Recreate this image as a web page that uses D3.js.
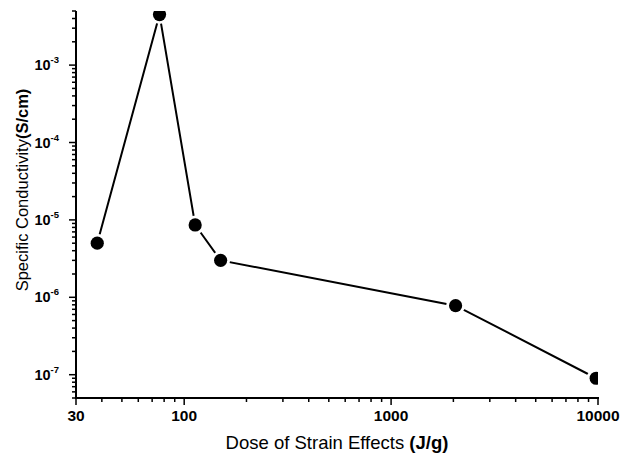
<!DOCTYPE html>
<html>
<head>
<meta charset="utf-8">
<script src="https://cdn.jsdelivr.net/npm/d3@7"></script>
<style>
  body { margin: 0; background: #fff; }
  svg text { font-family: "Liberation Sans", Arial, sans-serif; fill: #000; }
</style>
</head>
<body>
<svg id="chart" width="624" height="454"></svg>
<script>
// dose (J/g) and conductivity (S/cm)
var dose = [38, 76, 113, 150, 2050, 9800];
var conductivity = [5.0e-6, 4.5e-3, 8.6e-6, 3.0e-6, 7.8e-7, 9.0e-8];
var xTicks = [30, 100, 1000, 10000];
var yTicks = [1e-7, 1e-6, 1e-5, 1e-4, 1e-3];

var margin = { left: 76, right: 26, top: 11, bottom: 56 };
var width = 624, height = 454;

var svg = d3.select("#chart");

var x = d3.scaleLog()
    .domain([30, 10000])
    .range([margin.left, width - margin.right]);

var y = d3.scaleLog()
    .domain([5e-8, 5e-3])
    .range([height - margin.bottom, margin.top]);

svg.append("defs").append("clipPath")
    .attr("id", "plotClip")
    .append("rect")
    .attr("x", margin.left)
    .attr("y", margin.top)
    .attr("width", width - margin.left - margin.right)
    .attr("height", height - margin.top - margin.bottom);

// minor ticks
var xMinor = [];
[10, 100, 1000].forEach(function (d) {
    for (var i = 2; i <= 9; i++) {
        var v = d * i;
        if (v > 30 && v < 10000 && xTicks.indexOf(v) < 0) xMinor.push(v);
    }
});
var yMinor = [];
[1e-8, 1e-7, 1e-6, 1e-5, 1e-4, 1e-3].forEach(function (d) {
    for (var i = 2; i <= 9; i++) {
        var v = d * i;
        if (v >= 5e-8 * 0.999 && v <= 5e-3 * 1.001) yMinor.push(v);
    }
});

var x0 = margin.left, yb = height - margin.bottom;

// x axis
var gx = svg.append("g");
gx.selectAll(".xminor").data(xMinor).enter().append("line")
    .attr("x1", d => x(d)).attr("x2", d => x(d))
    .attr("y1", yb).attr("y2", yb + 4)
    .attr("stroke", "#000").attr("stroke-width", 1.5);
gx.selectAll(".xmajor").data(xTicks).enter().append("line")
    .attr("x1", d => x(d)).attr("x2", d => x(d))
    .attr("y1", yb).attr("y2", yb + 7)
    .attr("stroke", "#000").attr("stroke-width", 1.5);
gx.selectAll(".xlab").data(xTicks).enter().append("text")
    .attr("x", d => x(d)).attr("y", yb + 23)
    .attr("text-anchor", "middle")
    .attr("font-size", "15.5px").attr("font-weight", "bold")
    .text(d => d);
gx.append("line")
    .attr("x1", x0 - 1).attr("x2", width - margin.right + 1)
    .attr("y1", yb).attr("y2", yb)
    .attr("stroke", "#000").attr("stroke-width", 2);

// y axis
var gy = svg.append("g");
gy.selectAll(".yminor").data(yMinor).enter().append("line")
    .attr("x1", x0 - 4).attr("x2", x0)
    .attr("y1", d => y(d)).attr("y2", d => y(d))
    .attr("stroke", "#000").attr("stroke-width", 1.5);
gy.selectAll(".ymajor").data(yTicks).enter().append("line")
    .attr("x1", x0 - 7).attr("x2", x0)
    .attr("y1", d => y(d)).attr("y2", d => y(d))
    .attr("stroke", "#000").attr("stroke-width", 1.5);
var ylab = gy.selectAll(".ylab").data(yTicks).enter().append("text")
    .attr("x", x0 - 17).attr("y", d => y(d) + 5)
    .attr("text-anchor", "end")
    .attr("font-size", "14.5px").attr("font-weight", "bold");
ylab.append("tspan").text("10");
ylab.append("tspan")
    .attr("dy", -7).attr("font-size", "9.5px")
    .text(d => "-" + Math.round(-Math.log10(d)));
gy.append("line")
    .attr("x1", x0).attr("x2", x0)
    .attr("y1", margin.top).attr("y2", yb + 1)
    .attr("stroke", "#000").attr("stroke-width", 2);

// data
var pts = dose.map((d, i) => [d, conductivity[i]]);
var gp = svg.append("g").attr("clip-path", "url(#plotClip)");
gp.append("path")
    .datum(pts)
    .attr("d", d3.line().x(d => x(d[0])).y(d => y(d[1])))
    .attr("fill", "none")
    .attr("stroke", "#000")
    .attr("stroke-width", 2);
gp.selectAll(".halo").data(pts).enter().append("circle")
    .attr("cx", d => x(d[0])).attr("cy", d => y(d[1]))
    .attr("r", 9.5)
    .attr("fill", "#fff");
gp.selectAll(".dot").data(pts).enter().append("circle")
    .attr("cx", d => x(d[0])).attr("cy", d => y(d[1]))
    .attr("r", 6.6)
    .attr("fill", "#000");

// axis titles
var xt = svg.append("text")
    .attr("x", (x0 + width - margin.right) / 2)
    .attr("y", 449)
    .attr("text-anchor", "middle")
    .attr("font-size", "18.5px");
xt.append("tspan").text("Dose of Strain Effects ");
xt.append("tspan").attr("font-weight", "bold").text("(J/g)");

var yt = svg.append("text")
    .attr("transform", "translate(28,190) rotate(-90)")
    .attr("text-anchor", "middle")
    .attr("font-size", "16.5px");
yt.append("tspan").text("Specific Conductivity");
yt.append("tspan").attr("font-weight", "bold").text("(S/cm)");
</script>
</body>
</html>
